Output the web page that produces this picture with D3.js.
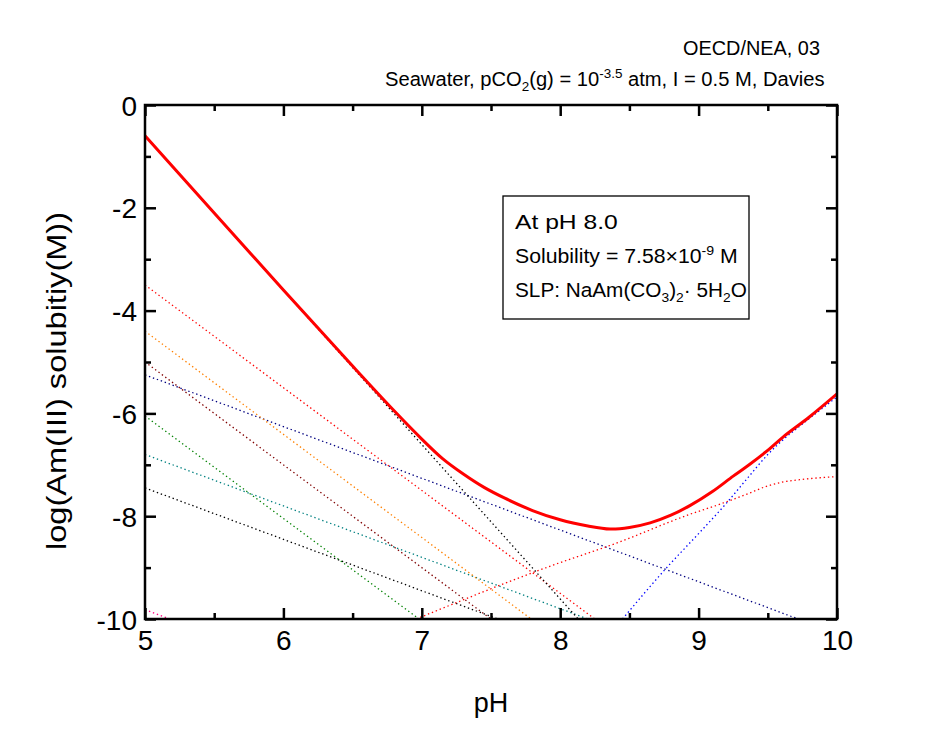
<!DOCTYPE html>
<html><head><meta charset="utf-8">
<script src="https://cdn.jsdelivr.net/npm/d3@7"></script>
<style>body{margin:0;background:#fff}svg{display:block}</style>
</head><body>
<svg id="c" width="929" height="730"></svg>
<script>
// ---------- data (pH, log concentration) ----------
const xMajorTicks = [5, 6, 7, 8, 9, 10];
const xMinorTicks = [5.5, 6.5, 7.5, 8.5, 9.5];
const yMajorTicks = [0, -2, -4, -6, -8, -10];
const yMinorTicks = [-1, -3, -5, -7, -9];

const totalSolubility = [[5,-0.6],[6,-3.6],[6.5,-5.08],[6.8,-5.95],[7.0,-6.5],[7.15,-6.88],[7.3,-7.18],[7.45,-7.44],[7.6,-7.65],[7.8,-7.89],[8.0,-8.07],[8.2,-8.19],[8.36,-8.25],[8.5,-8.22],[8.65,-8.13],[8.8,-7.98],[8.94,-7.79],[9.1,-7.52],[9.25,-7.22],[9.37,-6.99],[9.49,-6.74],[9.61,-6.46],[9.8,-6.07],[10,-5.62]];
const speciesBlackSteep = [[5,-0.6],[8.13,-10]];
const speciesRedFall = [[5,-3.5],[8.25,-10]];
const speciesOrange = [[5,-4.4],[7.79,-10]];
const speciesMaroon = [[5,-5.0],[7.5,-10]];
const speciesNavy = [[5,-5.25],[9.72,-10]];
const speciesGreen = [[5,-6.05],[6.98,-10]];
const speciesTeal = [[5,-6.8],[8.2,-10]];
const speciesBlackShallow = [[5,-7.45],[7.55,-10]];
const speciesPink = [[5,-9.82],[5.18,-10]];
const speciesRedRise = [[6.96,-10],[7.93,-8.97],[8.41,-8.52],[8.94,-7.96],[9.15,-7.77],[9.35,-7.57],[9.5,-7.41],[9.6,-7.34],[9.73,-7.29],[10,-7.23]];
const speciesBlueRise = [[8.45,-10],[8.77,-9.0],[9.01,-8.31],[9.2,-7.75],[9.35,-7.27],[9.5,-6.8],[9.62,-6.49],[9.73,-6.25],[10,-5.68]];

const dottedSeries = [
  {data: speciesPink, color: "#ff0080"},
  {data: speciesBlackShallow, color: "#000000"},
  {data: speciesTeal, color: "#008080"},
  {data: speciesGreen, color: "#008000"},
  {data: speciesNavy, color: "#000080"},
  {data: speciesMaroon, color: "#800000"},
  {data: speciesOrange, color: "#ff8000"},
  {data: speciesRedFall, color: "#ff0000"},
  {data: speciesBlackSteep, color: "#000000"},
  {data: speciesRedRise, color: "#ff0000", curved: true},
  {data: speciesBlueRise, color: "#0000ff", curved: true}
];

// ---------- layout ----------
const svg = d3.select("#c");
const L = 145, R = 837, T = 105, B = 619;
const x = d3.scaleLinear().domain([5, 10]).range([L, R]);
const y = d3.scaleLinear().domain([-10, 0]).range([B, T]);

svg.append("defs").append("clipPath").attr("id", "clip")
  .append("rect").attr("x", L).attr("y", T).attr("width", R - L).attr("height", B - T);

const plot = svg.append("g").attr("clip-path", "url(#clip)");

const lineStraight = d3.line().x(d => x(d[0])).y(d => y(d[1]));
const lineCurved = d3.line().x(d => x(d[0])).y(d => y(d[1])).curve(d3.curveMonotoneX);
const lineSmooth = d3.line().x(d => x(d[0])).y(d => y(d[1])).curve(d3.curveCatmullRom.alpha(0.5));

dottedSeries.forEach(s => {
  plot.append("path").datum(s.data)
    .attr("d", s.curved ? lineCurved : lineStraight)
    .attr("fill", "none").attr("stroke", s.color)
    .attr("stroke-width", 1.3).attr("stroke-dasharray", "1.4 2.8");
});

plot.append("path").datum(totalSolubility)
  .attr("d", lineSmooth)
  .attr("fill", "none").attr("stroke", "#ff0000").attr("stroke-width", 3)
  .attr("stroke-linejoin", "round");

// ---------- axes (ticks inward on all four sides) ----------
const font = "'Liberation Sans', Arial, sans-serif";
function axis(gen, transform, labels) {
  const g = svg.append("g").attr("transform", transform).call(gen);
  g.select(".domain").remove();
  g.selectAll(".tick line").attr("stroke", "#000").attr("stroke-width", 2.5);
  if (!labels) g.selectAll(".tick text").remove();
  return g;
}
// bottom
const gb = axis(d3.axisTop(x).tickValues(xMajorTicks).tickSize(11).tickFormat(d3.format("d")), `translate(0,${B})`, true);
gb.selectAll(".tick text").attr("y", 31).attr("dy", 0).attr("font-size", 28).attr("font-family", font).attr("fill", "#000");
axis(d3.axisTop(x).tickValues(xMinorTicks).tickSize(6), `translate(0,${B})`, false);
// top
axis(d3.axisBottom(x).tickValues(xMajorTicks).tickSize(11), `translate(0,${T})`, false);
axis(d3.axisBottom(x).tickValues(xMinorTicks).tickSize(6), `translate(0,${T})`, false);
// left
const gl = axis(d3.axisRight(y).tickValues(yMajorTicks).tickSize(11).tickFormat(d => d === 0 ? "0" : "-" + Math.abs(d)), `translate(${L},0)`, true);
gl.selectAll(".tick text").attr("x", -8).attr("text-anchor", "end").attr("dy", "0.36em").attr("font-size", 28).attr("font-family", font).attr("fill", "#000");
axis(d3.axisRight(y).tickValues(yMinorTicks).tickSize(6), `translate(${L},0)`, false);
// right
axis(d3.axisLeft(y).tickValues(yMajorTicks).tickSize(11), `translate(${R},0)`, false);
axis(d3.axisLeft(y).tickValues(yMinorTicks).tickSize(6), `translate(${R},0)`, false);

// frame
svg.append("rect").attr("x", L).attr("y", T).attr("width", R - L).attr("height", B - T)
  .attr("fill", "none").attr("stroke", "#000").attr("stroke-width", 2.5);

// ---------- texts ----------
function fit(sel, x0, w) {
  const bb = sel.node().getBBox();
  const s = w / bb.width;
  sel.attr("transform", `translate(${x0},0) scale(${s},1) translate(${-bb.x},0)`);
}
const tfont = "'Liberation Sans', Arial, sans-serif";

// axis titles
svg.append("text").attr("x", 491).attr("y", 712).attr("text-anchor", "middle")
  .attr("font-family", font).attr("font-size", 27).text("pH");
svg.append("text").attr("transform", "translate(66,381) rotate(-90)").attr("text-anchor", "middle")
  .attr("font-family", font).attr("font-size", 27).attr("textLength", 338).attr("lengthAdjust", "spacingAndGlyphs")
  .text("log(Am(III) solubitiy(M))");

// header
const h1 = svg.append("text").attr("y", 55).attr("font-family", tfont).attr("font-size", 19.5).text("OECD/NEA, 03");
fit(h1, 683, 137);
const h2 = svg.append("text").attr("y", 86).attr("font-family", tfont).attr("font-size", 19.5);
h2.append("tspan").text("Seawater, pCO");
h2.append("tspan").attr("font-size", 13).attr("dy", 5).text("2");
h2.append("tspan").attr("dy", -5).text("(g) = 10");
h2.append("tspan").attr("font-size", 13).attr("dy", -8).text("-3.5");
h2.append("tspan").attr("dy", 8).text(" atm, I = 0.5 M, Davies");
fit(h2, 385, 440);

// info box
svg.append("rect").attr("x", 503).attr("y", 196).attr("width", 246).attr("height", 123)
  .attr("fill", "#fff").attr("stroke", "#000").attr("stroke-width", 1.3);
const b1 = svg.append("text").attr("y", 229).attr("font-family", tfont).attr("font-size", 19.5).text("At pH 8.0");
fit(b1, 515, 103);
const b2 = svg.append("text").attr("y", 263).attr("font-family", tfont).attr("font-size", 19.5);
b2.append("tspan").text("Solubility = 7.58\u00d710");
b2.append("tspan").attr("font-size", 13).attr("dy", -8).text("-9");
b2.append("tspan").attr("dy", 8).text(" M");
fit(b2, 515, 223);
const b3 = svg.append("text").attr("y", 297).attr("font-family", tfont).attr("font-size", 19.5);
b3.append("tspan").text("SLP: NaAm(CO");
b3.append("tspan").attr("font-size", 13).attr("dy", 5).text("3");
b3.append("tspan").attr("dy", -5).text(")");
b3.append("tspan").attr("font-size", 13).attr("dy", 5).text("2");
b3.append("tspan").attr("dy", -5).text("\u00b7  5H");
b3.append("tspan").attr("font-size", 13).attr("dy", 5).text("2");
b3.append("tspan").attr("dy", -5).text("O");
fit(b3, 515, 232);
</script>
</body></html>
